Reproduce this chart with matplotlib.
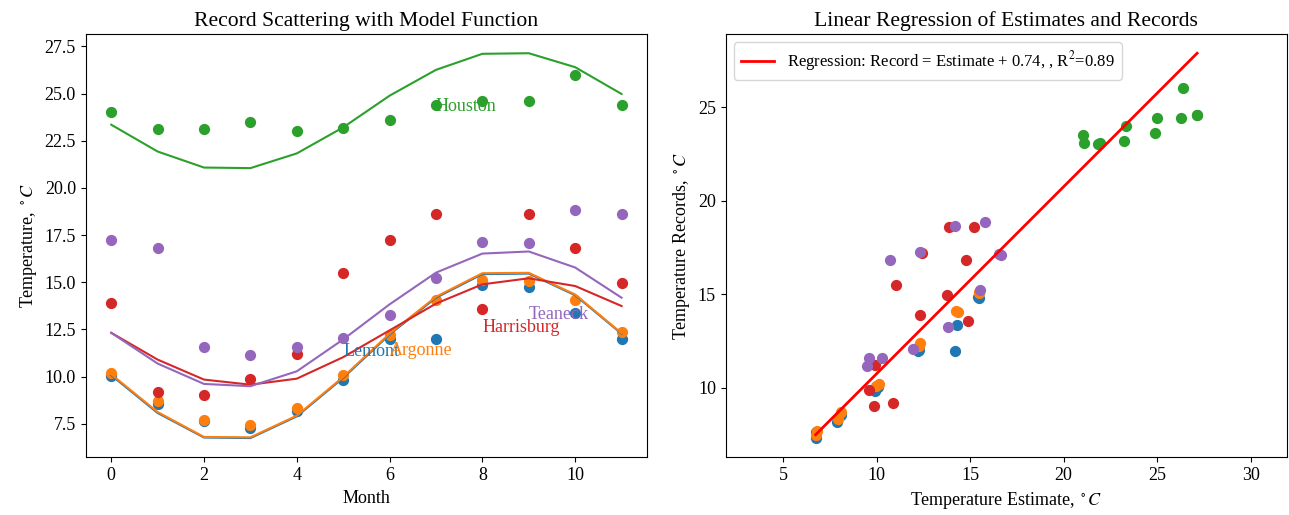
import numpy as np
import matplotlib
matplotlib.use("Agg")
import matplotlib.pyplot as plt

plt.rcParams['font.family'] = ['Liberation Serif', 'DejaVu Serif']
plt.rcParams['mathtext.fontset'] = 'stix'
plt.rcParams['font.size'] = 13

months = list(range(12))
cities = ["Lemont", "Argonne", "Houston", "Harrisburg", "Teaneck"]
colors = ["tab:blue", "tab:orange", "tab:green", "tab:red", "tab:purple"]

lemont_rec = [10.04, 8.55, 7.65, 7.3, 8.16, 9.82, 11.97, 11.97, 14.84, 14.77, 13.35, 12.0]
argonne_rec = [10.18, 8.72, 7.68, 7.45, 8.33, 10.1, 12.2, 14.08, 15.1, 15.07, 14.06, 12.36]
houston_rec = [24.0, 23.1, 23.1, 23.5, 23.0, 23.2, 23.6, 24.4, 24.6, 24.6, 26.0, 24.4]
harrisburg_rec = [13.9, 9.2, 9.04, 9.86, 11.21, 15.51, 17.22, 18.6, 13.58, 18.6, 16.81, 14.95]
teaneck_rec = [17.23, 16.81, 11.56, 11.13, 11.58, 12.06, 13.24, 15.2, 17.15, 17.07, 18.85, 18.62]

lemont_model = [10.07, 8.07, 6.77, 6.74, 7.89, 9.93, 12.23, 14.18, 15.43, 15.46, 14.31, 12.27]
argonne_model = [10.12, 8.12, 6.80, 6.78, 7.93, 9.98, 12.28, 14.23, 15.48, 15.50, 14.35, 12.30]
houston_model = [23.35, 21.93, 21.08, 21.05, 21.83, 23.21, 24.89, 26.26, 27.11, 27.14, 26.40, 24.98]
harrisburg_model = [12.32, 10.90, 9.84, 9.57, 9.89, 11.03, 12.45, 13.87, 14.89, 15.21, 14.80, 13.74]
teaneck_model = [12.32, 10.69, 9.61, 9.49, 10.28, 11.97, 13.83, 15.51, 16.52, 16.63, 15.78, 14.18]

label_x = [5, 6, 7, 8, 9]

reg_intercept = 0.74
reg_r2 = 0.89

records = [lemont_rec, argonne_rec, houston_rec, harrisburg_rec, teaneck_rec]
models = [lemont_model, argonne_model, houston_model, harrisburg_model, teaneck_model]

fig, (ax1, ax2) = plt.subplots(1, 2, figsize=(12.89, 5.15), dpi=100)
fig.subplots_adjust(left=0.0665, right=0.9985, top=0.934, bottom=0.112, wspace=0.14)

for name, col, rec, mod, lx in zip(cities, colors, records, models, label_x):
    ax1.scatter(months, rec, color=col, s=50)
    ax1.plot(months, mod, color=col, lw=1.5)
    ax1.text(lx, np.mean(mod), name, color=col, ha='left', va='baseline')

ax1.set_title("Record Scattering with Model Function")
ax1.set_xlabel("Month")
ax1.set_ylabel(r"Temperature, $^\circ C$")

all_est = []
for col, rec, mod in zip(colors, records, models):
    ax2.scatter(mod, rec, color=col, s=50)
    all_est += mod
xr = np.array([min(all_est), max(all_est)])
ax2.plot(xr, xr + reg_intercept, color='red', lw=2,
         label="Regression: Record = Estimate + %.2f, , R$^2$=%.2f" % (reg_intercept, reg_r2))
ax2.set_aspect('equal', adjustable='datalim')
ax2.legend(loc='upper left', fontsize=12)
ax2.set_title("Linear Regression of Estimates and Records")
ax2.set_xlabel(r"Temperature Estimate, $^\circ C$")
ax2.set_ylabel(r"Temperature Records, $^\circ C$")

fig.savefig("out.png", dpi=100)
